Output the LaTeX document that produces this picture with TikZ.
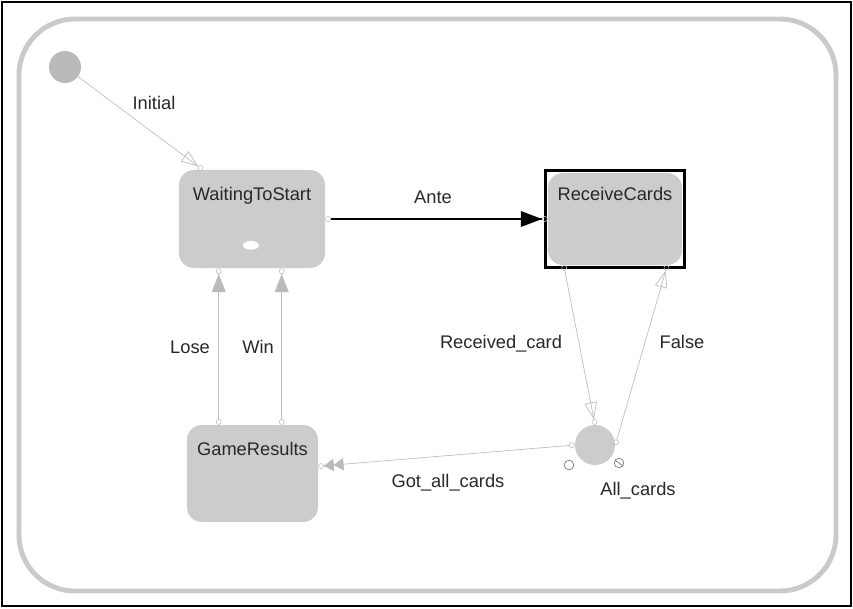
\documentclass[tikz,border=0pt]{standalone}
\usepackage{fontspec}
\setmainfont{Liberation Sans}
\usepackage{tikz}
\usetikzlibrary{arrows.meta,calc}
\definecolor{stategray}{RGB}{204,204,204}
\definecolor{framegray}{RGB}{202,202,202}
\definecolor{linegray}{RGB}{190,190,190}
\definecolor{hatchgray}{RGB}{186,186,186}
\definecolor{textdark}{RGB}{40,40,40}
\tikzset{
  port/.tip={Circle[open,length=4pt,width=4pt,line width=0.4pt,color=linegray]},
  opentri/.tip={Triangle[open,length=12pt,width=9pt,line width=0.5pt]},
  hatchtri/.tip={Triangle[length=13pt,width=10pt,fill=hatchgray]},
  smalltri/.tip={Triangle[length=7pt,width=9pt,fill=hatchgray]},
  solidtri/.tip={Triangle[length=15pt,width=11pt]},
}

\begin{document}
\begin{tikzpicture}[x=0.025cm,y=-0.025cm,
  every node/.style={font=\fontsize{13}{15}\selectfont,text=textdark},
  state/.style={fill=stategray,rounded corners=0.375cm,inner sep=0pt},
  statename/.style={anchor=base,inner sep=0pt,yshift=#1},
  statename/.default=-0.775cm,
  trans/.style={draw=linegray,line width=0.5pt},
  lab/.style={anchor=base,inner sep=0pt}]
\useasboundingbox (0,0) rectangle (853,608);
\draw[line width=2pt] (2,2) rectangle (851,606);
\draw[framegray,line width=3.5pt,rounded corners=1.4cm] (19,19) rectangle (836,591);

% states
\node[state,circle,fill=hatchgray,minimum size=0.8cm] (init) at (65,67) {};
\node[state,minimum width=3.65cm,minimum height=2.45cm,
  label={[statename]north:WaitingToStart}] (wait) at (252,219) {};
\fill[white] ($(wait.south)+(-1,-23)$) ellipse [x radius=0.2cm,y radius=0.11cm];
\node[state,minimum width=3.35cm,minimum height=2.3cm,
  label={[statename=-0.7cm]north:ReceiveCards}] (rcv) at (615,219) {};
\draw[line width=2.1pt] ([shift={(-0.05cm,0.05cm)}]rcv.north west) rectangle ([shift={(0.05cm,-0.05cm)}]rcv.south east);
\node[state,minimum width=3.275cm,minimum height=2.425cm,
  label={[statename]north:GameResults}] (res) at (252.5,473.5) {};
\node[state,circle,minimum size=1cm] (choice) at (595,445) {};
\draw[textdark!60,line width=0.5pt] ($(choice)+(-26,20)$) circle (0.12cm);
\draw[textdark!60,line width=0.5pt] ($(choice)+(24,18)$) circle (0.12cm)
  ($(choice)+(24,18)+(-4,-3)$) -- ($(choice)+(24,18)+(4,3)$);

% transitions
\draw[trans,-{opentri[] port[]}] (init) -- ([xshift=0.6cm]wait.north west);
\draw[line width=1pt,{port[]}-{solidtri[] port[]}] (wait.east) -- (rcv.west);
\draw[trans,{port[]}-{opentri[] port[]}] ([xshift=0.4cm]rcv.south west) -- (choice.north);
\draw[trans,{port[]}-{opentri[] port[]}] (choice.east) -- ([xshift=-0.375cm]rcv.south east);
\draw[trans,{port[]}-{smalltri[] smalltri[] port[]}] (choice.west) -- ([yshift=0.18cm]res.east);
\coordinate (lose) at ([xshift=0.8cm]res.north west);
\coordinate (win) at ([xshift=2.375cm]res.north west);
\draw[trans,{port[]}-{hatchtri[] port[]}] (lose) -- (lose |- wait.south);
\draw[trans,{port[]}-{hatchtri[] port[]}] (win) -- (win |- wait.south);

% labels
\node[lab] (initlab) at (154,109) {Initial};
\node[lab] (antelab) at (433,203) {Ante};
\node[lab] (reclab) at (501,348) {Received\_card};
\node[lab] (falselab) at (682,348) {False};
\node[lab] (gotlab) at (448,487) {Got\_all\_cards};
\node[lab] (alllab) at (638,495) {All\_cards};
\node[lab] (loselab) at (190,353) {Lose};
\node[lab] (winlab) at (258,353) {Win};
\end{tikzpicture}
\end{document}
